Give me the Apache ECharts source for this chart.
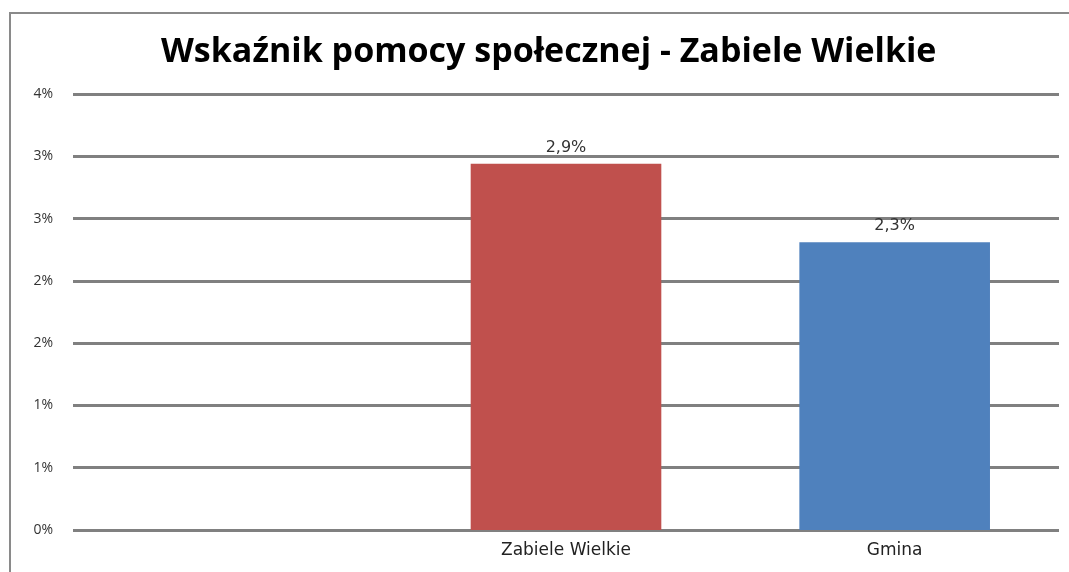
<!DOCTYPE html>
<html>
<head>
<meta charset="utf-8">
<script src="https://cdn.jsdelivr.net/npm/echarts@6/dist/echarts.min.js"></script>
<style>
  html, body { margin: 0; padding: 0; background: #fff; }
  #frame { position: absolute; left: 9px; top: 12px; width: 1080px; height: 600px;
           border-left: 2px solid #8a8a8a; border-top: 2px solid #8a8a8a; }
  #chart-container { position: absolute; left: 0; top: 0; width: 1069px; height: 572px; }
</style>
</head>
<body>
<div id="frame"></div>
<div id="chart-container"></div>
<script>
// categories: first slot is left empty in the original
const categories = ["", "Zabiele Wielkie", "Gmina"];
const values = [null, 2.94, 2.31];
const barColors = ["#C0504D", "#C0504D", "#4F81BD"];

const dom = document.getElementById("chart-container");
const myChart = echarts.init(dom, null, { renderer: "canvas" });

const option = {
  animation: false,
  title: {
    text: "Wskaźnik pomocy społecznej - Zabiele Wielkie",
    left: 156,
    top: 30,
    textStyle: {
      fontFamily: "Open Sans",
      fontWeight: "bold",
      fontSize: 34,
      color: "#000"
    }
  },
  grid: { left: 73, right: 10, top: 94, bottom: 42 },
  xAxis: {
    type: "category",
    data: categories,
    axisLine: { show: false },
    axisTick: { show: false },
    axisLabel: { color: "#222", fontSize: 17, fontFamily: "DejaVu Sans", margin: 12 }
  },
  yAxis: {
    type: "value",
    min: 0,
    max: 3.5,
    interval: 0.5,
    axisLine: { show: false },
    axisTick: { show: false },
    axisLabel: {
      color: "#333",
      fontSize: 14,
      fontFamily: "Open Sans",
      margin: 20,
      formatter: (v) => Math.round(v) + "%"
    },
    splitLine: { lineStyle: { color: "#808080", width: 3 } }
  },
  series: [
    {
      type: "bar",
      barWidth: "58%",
      data: values.map((v, i) => ({ value: v, itemStyle: { color: barColors[i] } })),
      label: {
        show: true,
        position: "top",
        distance: 8,
        color: "#333",
        fontSize: 16,
        fontFamily: "DejaVu Sans",
        formatter: (p) => p.value.toFixed(1).replace(".", ",") + "%"
      }
    }
  ]
};

myChart.setOption(option);
</script>
</body>
</html>
